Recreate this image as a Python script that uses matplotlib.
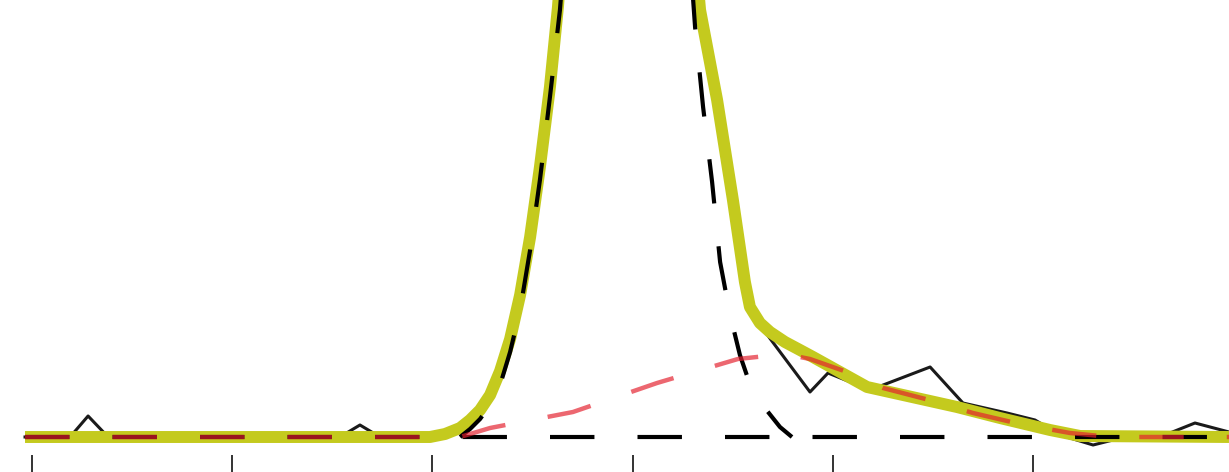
import matplotlib
matplotlib.use("Agg")
import matplotlib.pyplot as plt

# --- Data (x in tick units, y in counts above baseline) ---
# measured spectrum (thin black line)
data_x = [-0.035, 0.190, 0.280, 0.380, 1.538, 1.638, 1.738, 2.038, 2.188, 2.338, 2.463,
          2.587, 2.712, 2.837, 2.977, 3.112, 3.237, 3.337, 3.437, 3.561, 3.636, 3.886,
          3.976, 4.186, 4.486, 4.650, 4.870, 5.010, 5.135, 5.300, 5.460, 5.634, 5.809, 5.979]
data_y = [0.0, 0.0, 0.21, 0.0, 0.0, 0.12, 0.0, 0.0, 0.17, 0.60, 1.80,
          3.60, 6.50, 8.50, 8.90, 8.40, 6.60, 4.30, 3.00, 1.45, 1.12, 0.45,
          0.64, 0.47, 0.70, 0.34, 0.24, 0.17, 0.02, -0.08, 0.0, 0.0, 0.14, 0.05]

# total fit (thick yellow-green)
fit_x = [-0.035, 1.988, 2.063, 2.138, 2.188, 2.238, 2.288, 2.338, 2.388, 2.438, 2.488,
         2.537, 2.587, 2.627, 2.712, 2.837, 2.977, 3.112, 3.237, 3.322, 3.337, 3.422,
         3.501, 3.561, 3.586, 3.636, 3.686, 3.761, 3.836, 3.901, 4.171, 4.620, 4.835,
         5.085, 5.235, 5.979]
fit_y = [0.0, 0.0, 0.03, 0.09, 0.17, 0.27, 0.42, 0.66, 0.98, 1.42, 2.00,
         2.70, 3.50, 4.30, 6.50, 8.30, 8.80, 8.30, 6.50, 4.60, 4.27, 3.37,
         2.37, 1.55, 1.30, 1.14, 1.05, 0.95, 0.87, 0.80, 0.50, 0.30, 0.19,
         0.07, 0.01, 0.0]

# main peak component (black dashed)
peak_x = [2.138, 2.188, 2.238, 2.288, 2.338, 2.388, 2.438, 2.488, 2.537, 2.587,
          2.637, 2.712, 2.837, 2.977, 3.112, 3.237, 3.312, 3.352, 3.397, 3.437, 3.487,
          3.536, 3.601, 3.736, 3.796]
peak_y = [0.0, 0.08, 0.18, 0.32, 0.52, 0.85, 1.27, 1.87, 2.57, 3.40,
          4.27, 6.20, 8.00, 8.40, 8.00, 6.20, 4.10, 3.30, 2.55, 1.75, 1.22,
          0.82, 0.44, 0.10, 0.0]

# flat baseline (black dashed)
base_x = [-0.035, 5.979]
base_y = [0.0, 0.0]

# broad second component (red dashed)
broad_x = [-0.035, 2.138, 2.288, 2.702, 3.122, 3.526, 3.761, 3.886, 4.071, 4.251,
           4.501, 4.700, 4.935, 5.185, 5.385, 5.979]
broad_y = [0.0, 0.0, 0.09, 0.25, 0.54, 0.78, 0.83, 0.78, 0.65, 0.49,
           0.36, 0.24, 0.13, 0.04, 0.0, 0.0]

tick_pos = [0, 1, 2, 3, 4, 5]

plt.rcParams['lines.scale_dashes'] = False

fig = plt.figure(figsize=(12.29, 4.72), dpi=100)
ax = fig.add_axes([0, 17 / 472, 1, 455 / 472])

dash = (0, (32, 31))
ax.plot(data_x, data_y, color='#1a1a1a', lw=2.2, zorder=1)
ax.plot(fit_x, fit_y, color='#c4ca1e', lw=8.6, solid_capstyle='butt', zorder=2)
ax.plot(base_x, base_y, color='black', lw=3.0, ls=dash, zorder=3)
ax.plot(peak_x, peak_y, color='black', lw=3.0, ls=(10, (32, 31)), zorder=3)
ax.plot(broad_x, broad_y, color='#e41f2d', lw=3.2, ls=dash, alpha=0.68, zorder=4)

ax.set_xlim(-0.160, 5.979)
ax.set_ylim(-0.18, 4.37)
for s in ax.spines.values():
    s.set_visible(False)
ax.set_xticks(tick_pos)
ax.set_xticklabels([])
ax.set_yticks([])
ax.tick_params(axis='x', direction='out', length=14, width=1.4, color='#333333')

fig.savefig("out.png", dpi=100)
